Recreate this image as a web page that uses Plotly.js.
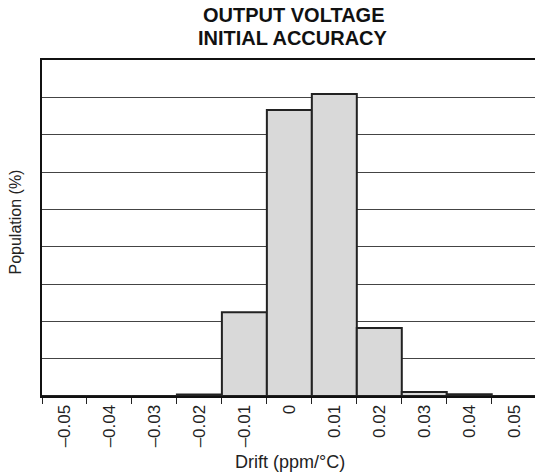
<!DOCTYPE html>
<html>
<head>
<meta charset="utf-8">
<script src="https://cdn.plot.ly/plotly-3.0.1.min.js"></script>
<style>html,body{margin:0;padding:0;background:#fff;}#chart{width:535px;height:475px;}</style>
</head>
<body>
<div id="chart"></div>
<script>
// Drift bins (ppm/°C) and population values (arbitrary gridline units; no y tick labels in reference)
const driftLabels = ['–0.05', '–0.04', '–0.03', '–0.02', '–0.01', '0', '0.01', '0.02', '0.03', '0.04', '0.05'];
const population = [0, 0, 0, 0.04, 2.24, 7.66, 8.09, 1.82, 0.11, 0.05, 0];
const titleLines = ['OUTPUT VOLTAGE', 'INITIAL ACCURACY'];
const xTitle = 'Drift (ppm/°C)';
const yTitle = 'Population (%)';

const FONT = 'Liberation Sans, Arial, Helvetica, sans-serif';
const W = 535, H = 475, ML = 42, MR = 0, MT = 60, MB = 79;
const plotH = H - MT - MB, plotW = W - ML - MR;
const py = px => (H - MB - px) / plotH;
const pxX = px => (px - ML) / plotW;

const trace = {
  type: 'bar',
  x: driftLabels,
  y: population,
  width: 1,
  marker: {color: '#d9d9d9', line: {color: '#222', width: 2}},
  hoverinfo: 'x+y'
};

const layout = {
  width: W, height: H,
  margin: {l: ML, r: MR, t: MT, b: MB},
  paper_bgcolor: '#fff', plot_bgcolor: '#fff',
  showlegend: false,
  bargap: 0,
  font: {family: FONT, color: '#222'},
  xaxis: {
    type: 'category',
    range: [-0.5, 10.462],
    tickson: 'boundaries',
    ticks: 'outside', ticklen: 6, tickwidth: 1, tickcolor: '#222',
    tickangle: -90,
    tickfont: {family: FONT, size: 17, color: '#222'},
    showline: true, linewidth: 2, linecolor: '#111', mirror: true,
    showgrid: false, zeroline: false, fixedrange: true
  },
  yaxis: {
    range: [0, 9],
    dtick: 1, tick0: 0,
    showticklabels: false, ticks: '',
    showgrid: true, gridcolor: '#444', gridwidth: 1,
    showline: true, linewidth: 2, linecolor: '#111', mirror: false,
    zeroline: false, fixedrange: true
  },
  annotations: [
    {text: '<b>' + titleLines[0] + '</b>', xref: 'paper', yref: 'paper', x: pxX(293), y: py(15.5), xanchor: 'center', yanchor: 'middle', showarrow: false, font: {family: FONT, size: 20, color: '#111'}},
    {text: '<b>' + titleLines[1] + '</b>', xref: 'paper', yref: 'paper', x: pxX(293), y: py(38.5), xanchor: 'center', yanchor: 'middle', showarrow: false, font: {family: FONT, size: 20, color: '#111'}},
    {text: xTitle, xref: 'paper', yref: 'paper', x: pxX(290), y: py(462), xanchor: 'center', yanchor: 'middle', showarrow: false, font: {family: FONT, size: 18, color: '#222'}},
    {text: yTitle, xref: 'paper', yref: 'paper', x: pxX(15.5), y: py(222), xanchor: 'center', yanchor: 'middle', textangle: -90, showarrow: false, font: {family: FONT, size: 16, color: '#222'}}
  ]
};

Plotly.newPlot('chart', [trace], layout, {displayModeBar: false, staticPlot: true});
</script>
</body>
</html>
